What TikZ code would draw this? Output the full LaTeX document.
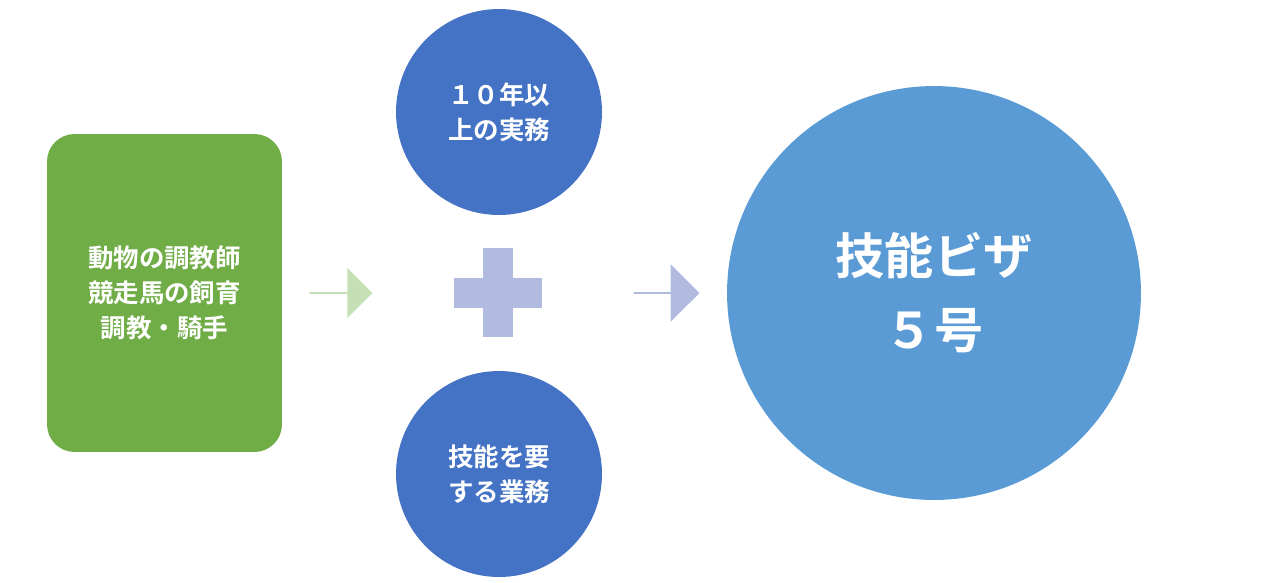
\documentclass[tikz,border=0pt]{standalone}
\usepackage{fontspec}
\setmainfont{Noto Sans CJK JP}[BoldFont={Noto Sans CJK JP Bold}]
\usetikzlibrary{shapes.arrows,positioning}
\definecolor{grn}{HTML}{70AD47}
\definecolor{dblue}{HTML}{4472C4}
\definecolor{lblue}{HTML}{5B9BD5}
\definecolor{garrow}{HTML}{C5E0B4}
\definecolor{barrow}{HTML}{B0BBDF}
\begin{document}
\begin{tikzpicture}[x=0.02cm,y=-0.02cm,
        % shapes
        box/.style={fill=grn, rounded corners=0.55cm, minimum width=4.7cm, minimum height=6.36cm, align=center, text=white, font=\bfseries\fontsize{14.5}{20}\selectfont},
        small/.style={circle, fill=dblue, minimum size=4.12cm, align=center, text=white, font=\bfseries\fontsize{14.5}{20}\selectfont},
        big/.style={circle, fill=lblue, minimum size=8.28cm, align=center, text=white, font=\bfseries\fontsize{28}{42}\selectfont},
        arr/.style={single arrow, minimum height=#1, single arrow head extend=0.2cm, minimum width=1.5cm, inner sep=0pt}
      ]
      \useasboundingbox (0,0) rectangle (1267,582);

      % left box and first arrow
      \node[box] (job) at (164.5,293) {動物の調教師\\競走馬の飼育\\調教・騎手};
      \node[arr=1.26cm, fill=garrow, minimum width=1.0cm, single arrow head extend=0.2cm] (arrow1) at (340.5,293) {};

      % conditions
      \node[small] (years) at (499,112) {１０年以\\上の実務};
      \node[small] (skill) at (499,474) {技能を要\\する業務};
      \fill[barrow] (454,278) rectangle (542,308);
      \fill[barrow] (483,248) rectangle (513,337);

      % result
      \node[arr=1.32cm, fill=barrow, minimum width=1.15cm, single arrow head extend=0.2cm] (arrow2) at (666,293) {};
      \node[big] (visa) at (934,293) {技能ビザ\\５号};

    \end{tikzpicture}
\end{document}
